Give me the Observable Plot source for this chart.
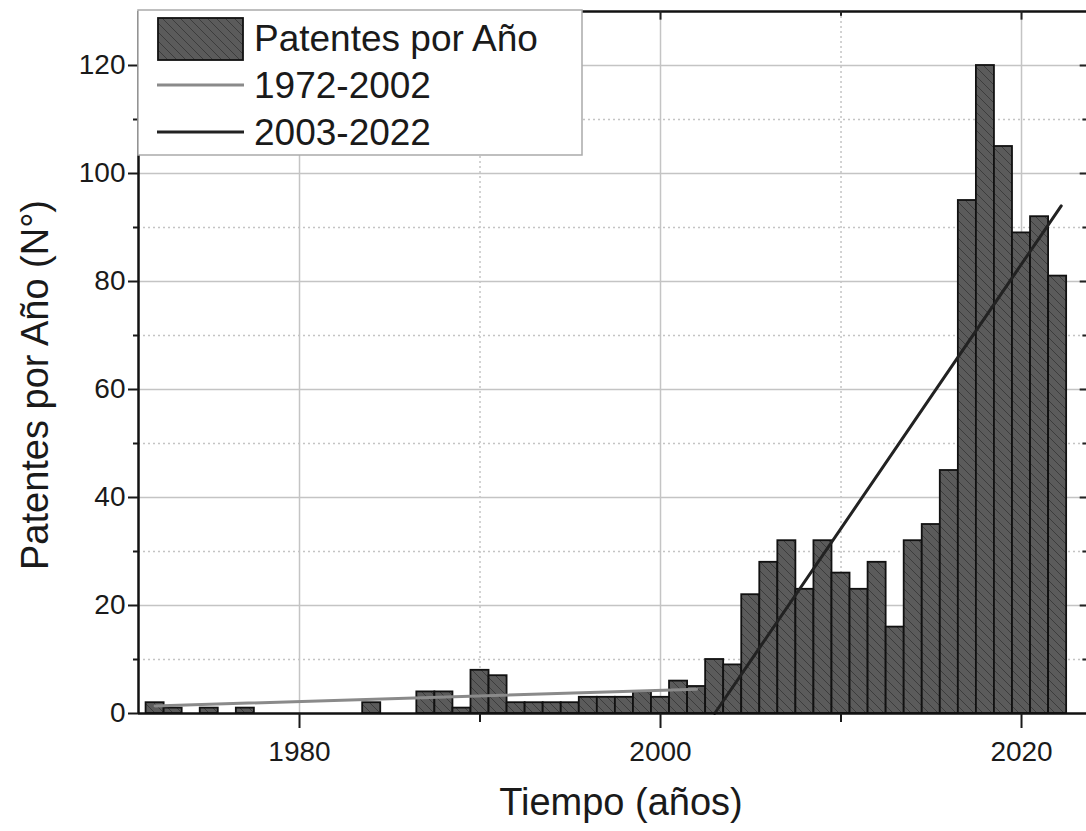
<!DOCTYPE html>
<html><head><meta charset="utf-8">
<script src="https://cdn.jsdelivr.net/npm/d3@7"></script>
<script src="https://cdn.jsdelivr.net/npm/@observablehq/plot@0.6"></script>
<style>body{margin:0;background:#fff} #chart{width:1086px;height:831px}</style>
</head><body><div id="chart"></div>
<script>
const years = [1972,1973,1974,1975,1976,1977,1978,1979,1980,1981,1982,1983,1984,1985,1986,1987,1988,1989,1990,1991,1992,1993,1994,1995,1996,1997,1998,1999,2000,2001,2002,2003,2004,2005,2006,2007,2008,2009,2010,2011,2012,2013,2014,2015,2016,2017,2018,2019,2020,2021,2022];
const counts = [2,1,0,1,0,1,0,0,0,0,0,0,2,0,0,4,4,1,8,7,2,2,2,2,3,3,3,4,3,6,5,10,9,22,28,32,23,32,26,23,28,16,32,35,45,95,120,105,89,92,81];
const trend1Years = [1972, 2002];
const trend1Values = [1.4, 4.5];
const trend2Years = [2003, 2022.2];
const trend2Values = [0, 94];
const majorYTicks = [0,20,40,60,80,100,120];
const minorYTicks = [10,30,50,70,90,110];
const majorXTicks = [1980,2000,2020];
const minorXTicks = [1990,2010];
const legendLabels = ["Patentes por Año","1972-2002","2003-2022"];
const xTitle = "Tiempo (años)";
const yTitle = "Patentes por Año (N°)";

const bars = years.map((y,i)=>({year:y,count:counts[i]})).filter(d=>d.count>0);
const trend1 = trend1Years.map((x,i)=>({x, y:trend1Values[i]}));
const trend2 = trend2Years.map((x,i)=>({x, y:trend2Values[i]}));
const X0 = 1971.08, X1 = 2023.6, Y0 = 0, Y1 = 130;
const font = "'Liberation Sans', Arial, sans-serif";
const tickSize = 28;

const grid = {stroke:"#c4c4c4", strokeWidth:1.5};
const dgrid = {stroke:"#c4c4c4", strokeWidth:1.5, strokeDasharray:"2,3"};

const plot = Plot.plot({
  width:1086, height:831,
  marginLeft:138, marginRight:0, marginTop:11, marginBottom:118,
  style:{fontFamily:font, fontSize:tickSize+"px", color:"#1a1a1a", background:"#fff"},
  x:{domain:[X0,X1]},
  y:{domain:[Y0,Y1]},
  marks:[
    Plot.ruleY(minorYTicks, dgrid),
    Plot.ruleY(majorYTicks.filter(v=>v>0), grid),
    Plot.ruleX(minorXTicks, dgrid),
    Plot.ruleX(majorXTicks, grid),
    Plot.rectY(bars, {x1:d=>d.year-0.5, x2:d=>d.year+0.5, y:"count", fill:"url(#hatch)", stroke:"#111", strokeWidth:1.8}),
    Plot.line(trend1, {x:"x", y:"y", stroke:"#8a8a8a", strokeWidth:3}),
    Plot.line(trend2, {x:"x", y:"y", stroke:"#222", strokeWidth:3}),
    Plot.ruleX([X0], {stroke:"#111", strokeWidth:2.5}),
    Plot.ruleY([Y0], {stroke:"#111", strokeWidth:2.5}),
    Plot.ruleY([Y1], {stroke:"#111", strokeWidth:2.5}),
    Plot.ruleY(majorYTicks.filter(v=>v>0), {x1:X1-0.35, x2:X1, stroke:"#222", strokeWidth:2}),
    Plot.ruleY(minorYTicks, {x1:X1-0.2, x2:X1, stroke:"#222", strokeWidth:2}),
    Plot.ruleX(majorXTicks, {y1:Y1-1.6, y2:Y1, stroke:"#222", strokeWidth:2}),
    Plot.ruleX(minorXTicks, {y1:Y1-0.9, y2:Y1, stroke:"#222", strokeWidth:2}),
    Plot.axisY(majorYTicks, {tickSize:10, tickPadding:3, strokeWidth:2, tickFormat:d=>String(d), label:null, fontSize:tickSize}),
    Plot.axisY(minorYTicks, {tickSize:5, strokeWidth:2, tickFormat:()=>"", label:null}),
    Plot.axisX(majorXTicks, {tickSize:15, tickPadding:13, strokeWidth:2, tickFormat:d=>String(d), label:null, fontSize:tickSize}),
    Plot.axisX(minorXTicks, {tickSize:9, strokeWidth:2, tickFormat:()=>"", label:null})
  ]
});
document.getElementById("chart").appendChild(plot);

const svg = d3.select(plot);
svg.selectAll("text").attr("fill","#1a1a1a");
const defs = svg.insert("defs", ":first-child");
const pat = defs.append("pattern").attr("id","hatch").attr("patternUnits","userSpaceOnUse").attr("width",9).attr("height",9);
pat.append("rect").attr("width",9).attr("height",9).attr("fill","#5b5b5b");
pat.append("path").attr("d","M0,0L9,9M-1,8L1,10M8,-1L10,1").attr("stroke","#3c3c3c").attr("stroke-width",1);

// axis titles
svg.append("text").attr("x",621).attr("y",815).attr("text-anchor","middle")
  .attr("font-family",font).attr("font-size",38).attr("fill","#1a1a1a").text(xTitle);
svg.append("text").attr("transform","translate(48,385) rotate(-90)").attr("text-anchor","middle")
  .attr("font-family",font).attr("font-size",38).attr("fill","#1a1a1a").text(yTitle);

// legend
const lg = svg.append("g").attr("text-anchor","start");
lg.append("rect").attr("x",138).attr("y",10).attr("width",444).attr("height",145)
  .attr("fill","#fff").attr("stroke","#aaa").attr("stroke-width",1.5);
lg.append("rect").attr("x",158).attr("y",18).attr("width",85).attr("height",42)
  .attr("fill","url(#hatch)").attr("stroke","#111").attr("stroke-width",1.8);
lg.append("line").attr("x1",157).attr("x2",244).attr("y1",85).attr("y2",85).attr("stroke","#8a8a8a").attr("stroke-width",3);
lg.append("line").attr("x1",157).attr("x2",244).attr("y1",132).attr("y2",132).attr("stroke","#222").attr("stroke-width",3);
const ly = [51, 98, 145];
legendLabels.forEach((t,i)=>{
  lg.append("text").attr("x",254).attr("y",ly[i]).attr("text-anchor","start").attr("font-family",font).attr("font-size",37)
    .attr("fill","#1a1a1a").text(t);
});
</script></body></html>
